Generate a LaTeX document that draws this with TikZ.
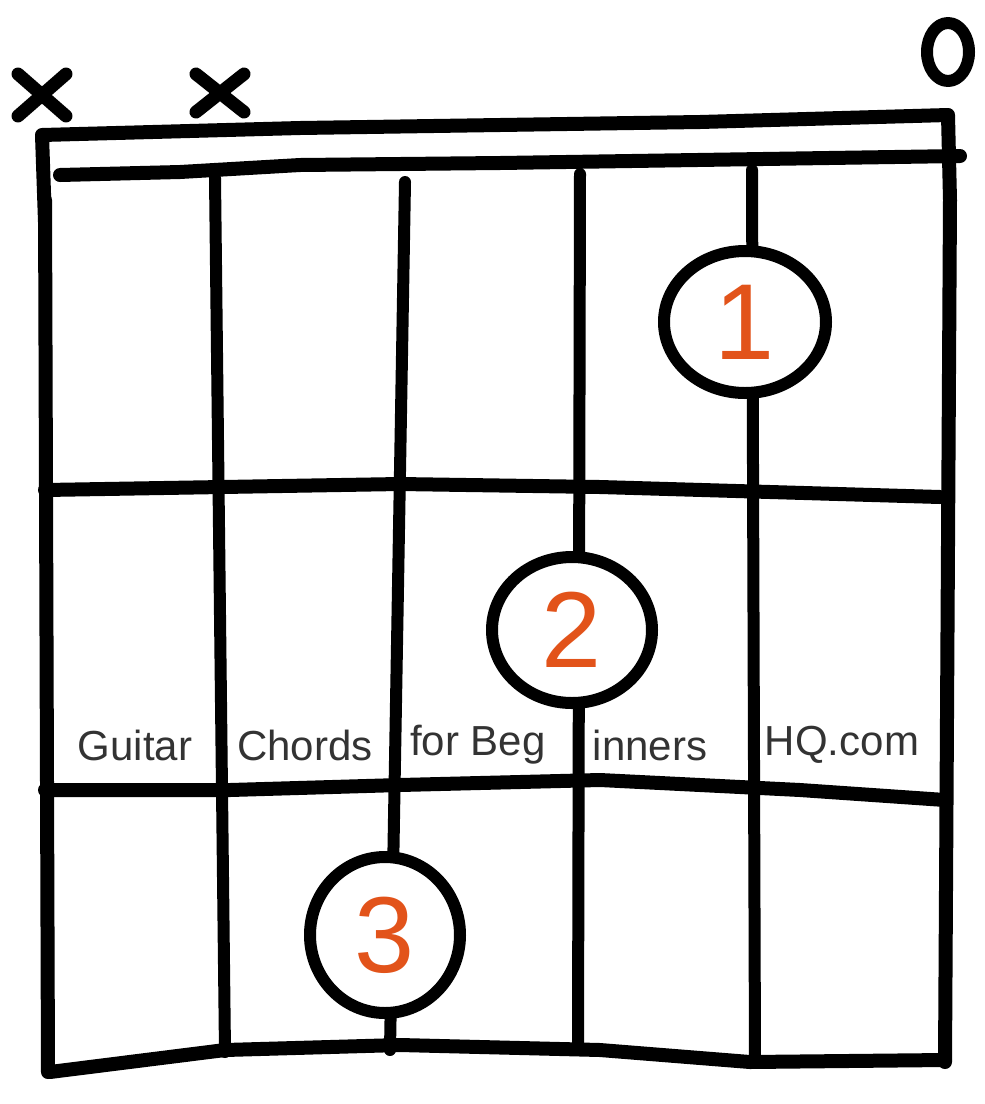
\documentclass[tikz,border=0pt]{standalone}
\usepackage{fontspec}
\setmainfont{Liberation Sans}
\usetikzlibrary{shapes.geometric}
\definecolor{fingerorange}{HTML}{E2531A}
\begin{document}
\begin{tikzpicture}[x=1pt,y=-1pt,line cap=round,line join=round,
    frame/.style={line width=14pt},
    string/.style={line width=12pt},
    finger/.style={ellipse,draw,line width=12pt,fill=white,text=fingerorange,
      font=\fontsize{108}{108}\selectfont},
    brand/.style={text=black!80,font=\fontsize{42}{50}\selectfont,inner sep=0pt}]
  \useasboundingbox (0,0) rectangle (985,1104);
  % strings
  \draw[string] (215,178) -- (225,1052);
  \draw[string] (405,182) -- (390,1050);
  \draw[string] (580,174) -- (578,1048);
  \draw[string] (752,170) -- (755,1058);
  % frame, nut and frets
  \draw[frame] (45,222) -- (42,135) -- (300,128) -- (700,122) -- (948,115) -- (950,200) -- (945,1062);
  \draw[frame] (45,200) -- (48,1072);
  \draw[frame] (60,175) -- (180,172) -- (300,165) -- (500,163) -- (960,156);
  \draw[frame] (45,490) -- (400,484) -- (600,487) -- (940,497);
  \draw[frame] (45,790) -- (230,790) -- (400,785) -- (600,780) -- (800,790) -- (945,800);
  \draw[frame] (50,1072) -- (225,1050) -- (400,1045) -- (600,1050) -- (750,1062) -- (945,1060);
  % muted and open strings
  \draw[line width=13pt] (18,74) -- (66,116) (18,116) -- (66,74);
  \draw[line width=13pt] (196,74) -- (244,112) (196,112) -- (244,74);
  \draw[line width=12pt] (948,52) ellipse (21 and 29);
  % fingers
  \node[finger,minimum width=162pt,minimum height=142pt] (f1) at (745,322) {1};
  \node[finger,minimum width=160pt,minimum height=146pt] (f2) at (572,630) {2};
  \node[finger,minimum width=150pt,minimum height=156pt] (f3) at (385,935) {3};
  % watermark
  \node[brand] (w1) at (135,745) {Guitar};
  \node[brand] (w2) at (305,745) {Chords};
  \node[brand] (w3) at (478,745) {for Beg};
  \node[brand] (w4) at (650,745) {inners};
  \node[brand] (w5) at (842,745) {HQ.com};
\end{tikzpicture}
\end{document}
